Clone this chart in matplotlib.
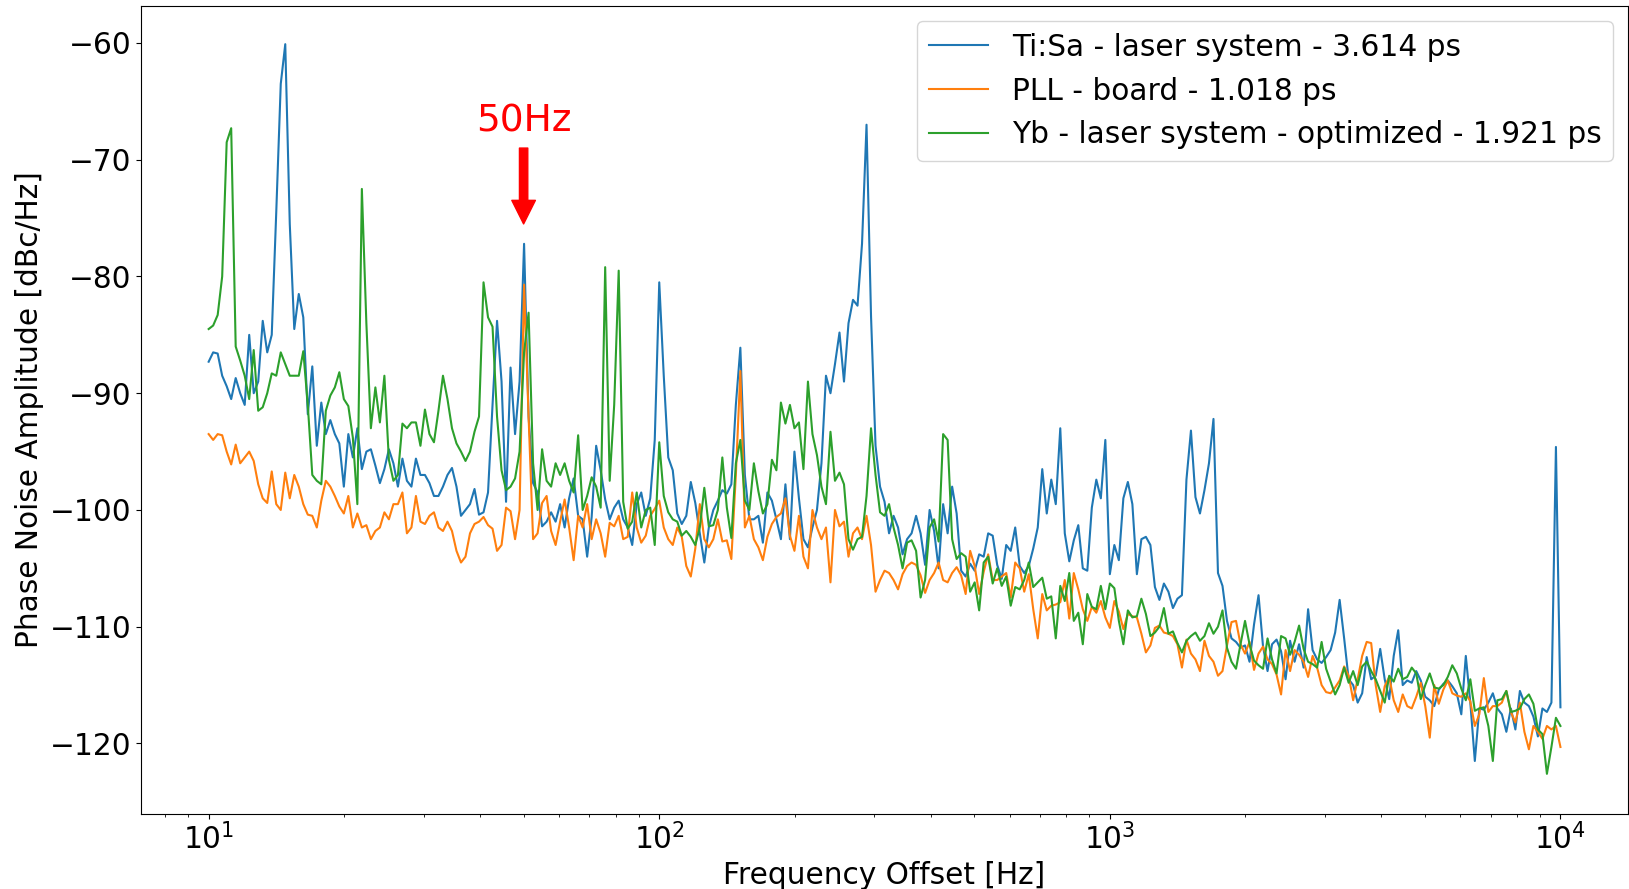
import numpy as np
import matplotlib.pyplot as plt

# offset frequency grid: 100 points per decade, 10 Hz .. 10 kHz
freq = np.logspace(1, 4, 301)

# single sideband phase noise in dBc/Hz on the grid above
tisa = [
    -87.3, -86.5, -86.6, -88.5, -89.4, -90.5, -88.7, -90.0, -91.0, -85.0,
    -90.0, -89.0, -83.8, -86.5, -85.0, -74.5, -63.5, -60.1, -75.5, -84.5,
    -81.5, -83.5, -91.8, -87.7, -94.5, -90.8, -93.5, -92.3, -93.5, -94.3,
    -98.0, -93.5, -95.5, -93.0, -96.5, -95.0, -94.8, -96.2, -97.7, -96.5,
    -94.8, -96.0, -98.0, -95.6, -97.5, -98.0, -95.6, -97.0, -97.0, -97.7,
    -98.8, -98.8, -98.0, -97.0, -96.4, -98.0, -100.5, -100.0, -99.5, -98.2,
    -100.4, -100.2, -98.5, -91.0, -83.8, -89.0, -99.3, -87.8, -93.5, -89.0,
    -77.2, -92.0, -97.7, -98.5, -101.4, -101.0, -100.2, -101.0, -99.5, -101.5,
    -99.0, -97.3, -100.5, -100.8, -104.0, -100.6, -94.5, -96.6, -99.1, -100.8,
    -99.8, -99.2, -100.8, -101.5, -103.0, -99.5, -98.5, -100.5, -99.0, -94.0,
    -80.5, -88.5, -95.5, -96.6, -100.3, -101.2, -100.5, -97.6, -99.4, -102.0,
    -104.5, -101.5, -100.0, -99.2, -98.3, -98.6, -97.8, -91.0, -86.1, -97.0,
    -100.8, -100.8, -100.5, -102.8, -98.5, -99.2, -100.8, -102.5, -97.8, -102.5,
    -95.0, -99.0, -102.5, -103.2, -101.5, -100.0, -96.0, -88.5, -90.0, -87.5,
    -84.8, -89.0, -84.0, -82.0, -82.5, -77.2, -67.0, -83.4, -94.5, -98.0,
    -99.3, -102.0, -100.5, -101.5, -103.8, -102.5, -102.0, -100.5, -102.0, -104.7,
    -100.0, -101.8, -105.0, -99.5, -102.0, -98.0, -100.3, -105.2, -105.7, -104.6,
    -105.2, -103.8, -104.0, -102.0, -102.2, -104.7, -105.9, -103.0, -103.5, -101.5,
    -104.8, -105.4, -104.8, -103.3, -101.5, -96.5, -100.3, -97.4, -99.5, -93.0,
    -102.0, -104.4, -102.6, -101.3, -105.0, -105.2, -99.8, -97.4, -99.0, -94.0,
    -105.5, -103.0, -104.3, -99.0, -97.6, -99.5, -105.5, -102.5, -102.3, -103.0,
    -106.6, -107.7, -106.3, -107.0, -108.4, -107.6, -107.3, -97.4, -93.2, -98.9,
    -100.3, -98.3, -96.0, -92.2, -105.4, -106.5, -109.5, -111.0, -111.3, -111.8,
    -111.6, -113.0, -109.8, -107.3, -111.7, -113.8, -111.5, -111.1, -112.1, -114.5,
    -111.2, -113.0, -111.5, -113.5, -108.5, -112.0, -112.8, -113.1, -112.6, -112.0,
    -110.5, -107.7, -111.0, -114.5, -115.0, -116.5, -115.7, -112.6, -114.5, -114.2,
    -111.9, -114.5, -116.2, -112.5, -110.3, -115.0, -114.6, -114.8, -113.8, -114.6,
    -116.0, -116.3, -116.8, -115.4, -114.9, -114.6, -115.1, -115.7, -117.5, -112.5,
    -116.5, -121.5, -117.0, -117.1, -116.5, -115.7, -117.0, -117.5, -119.0, -117.0,
    -118.8, -115.5, -116.5, -116.8, -117.7, -119.4, -117.0, -117.3, -116.5, -94.6,
    -116.9,
]

pll = [
    -93.5, -94.0, -93.5, -93.6, -95.0, -96.1, -94.4, -96.0, -95.5, -95.0,
    -95.8, -97.8, -99.0, -99.4, -96.7, -99.5, -100.0, -96.8, -99.0, -97.0,
    -98.0, -99.5, -100.4, -100.5, -101.5, -99.2, -97.5, -98.0, -98.8, -99.7,
    -100.3, -98.8, -101.5, -100.3, -101.5, -101.3, -102.5, -101.8, -101.5, -100.2,
    -100.8, -99.5, -99.5, -98.5, -102.0, -101.5, -98.8, -101.0, -101.2, -100.5,
    -100.2, -101.5, -101.8, -101.0, -101.8, -103.5, -104.5, -104.0, -102.0, -101.2,
    -101.0, -100.6, -101.3, -101.6, -103.5, -103.0, -99.8, -100.1, -102.5, -100.0,
    -80.7, -92.0, -102.5, -102.0, -99.4, -98.8, -101.8, -103.0, -101.0, -99.1,
    -101.5, -104.3, -100.5, -101.5, -99.5, -102.5, -100.8, -102.0, -104.0, -101.1,
    -101.4, -100.5, -102.5, -102.3, -98.5, -101.5, -102.8, -102.2, -100.5, -99.9,
    -99.2, -101.5, -102.5, -103.0, -101.5, -102.3, -104.8, -105.7, -103.3, -99.5,
    -102.5, -103.2, -102.5, -100.8, -102.7, -102.6, -104.2, -97.0, -88.1, -101.5,
    -100.5, -102.5, -103.2, -104.3, -102.3, -101.2, -100.6, -100.3, -99.0, -102.2,
    -103.5, -100.5, -104.0, -105.0, -100.0, -101.5, -102.5, -101.5, -106.2, -100.0,
    -101.4, -101.0, -104.0, -102.0, -101.5, -102.5, -100.5, -103.0, -107.0, -106.0,
    -105.2, -105.4, -106.0, -106.8, -105.5, -104.8, -104.5, -104.7, -105.6, -107.1,
    -106.0, -105.4, -104.5, -106.0, -106.2, -105.4, -104.9, -105.6, -107.2, -103.5,
    -104.8, -107.2, -105.3, -103.8, -106.0, -106.0, -105.7, -105.4, -107.5, -104.5,
    -105.0, -107.0, -105.5, -108.5, -111.0, -107.2, -108.6, -108.2, -108.1, -107.9,
    -106.0, -109.3, -105.4, -106.8, -108.5, -109.5, -108.3, -108.8, -107.8, -109.2,
    -110.1, -107.8, -108.7, -110.2, -108.9, -109.1, -109.2, -110.6, -112.2, -111.6,
    -110.1, -109.9, -110.5, -110.6, -110.8, -111.5, -113.5, -111.1, -112.3, -112.8,
    -113.8, -111.2, -112.5, -113.0, -114.2, -113.8, -111.6, -109.6, -109.5, -111.5,
    -112.3, -111.3, -113.7, -112.3, -111.7, -112.8, -113.2, -114.1, -115.8, -112.0,
    -113.8, -112.0, -112.4, -113.0, -114.3, -112.5, -113.5, -115.0, -115.6, -115.7,
    -115.2, -114.6, -113.4, -114.2, -116.3, -114.5, -112.5, -111.3, -111.4, -115.0,
    -117.3, -115.1, -114.3, -116.3, -117.3, -115.8, -116.8, -117.0, -116.0, -114.8,
    -116.8, -119.5, -115.0, -116.6, -115.4, -114.6, -115.7, -115.9, -116.0, -115.7,
    -116.4, -118.5, -117.5, -114.4, -117.3, -116.8, -116.8, -116.5, -115.5, -117.3,
    -118.2, -116.5, -119.0, -120.5, -118.5, -119.0, -119.6, -118.5, -118.8, -118.5,
    -120.3,
]

yb = [
    -84.5, -84.2, -83.3, -80.0, -68.5, -67.3, -86.0, -87.2, -88.5, -90.5,
    -86.3, -91.5, -91.2, -90.0, -88.3, -88.5, -86.5, -87.5, -88.5, -88.5,
    -88.5, -86.4, -91.0, -97.0, -97.5, -97.8, -91.5, -90.2, -89.5, -88.2,
    -90.5, -91.1, -93.8, -99.5, -72.5, -84.0, -93.0, -89.5, -92.5, -88.5,
    -95.7, -97.5, -97.0, -92.6, -93.0, -92.5, -92.5, -94.5, -91.4, -93.5,
    -94.2, -91.5, -88.5, -90.5, -93.0, -94.3, -95.0, -95.8, -95.0, -93.3,
    -92.0, -80.5, -83.5, -84.3, -92.0, -96.6, -98.3, -98.0, -97.3, -95.0,
    -86.5, -83.1, -96.0, -100.0, -94.8, -97.5, -98.0, -96.0, -97.0, -96.0,
    -97.5, -98.5, -93.6, -100.0, -98.8, -97.2, -98.0, -99.8, -79.2, -97.5,
    -91.0, -79.5, -99.3, -101.6, -101.0, -98.5, -101.5, -100.0, -99.8, -103.0,
    -94.2, -98.8, -100.2, -100.8, -101.0, -102.2, -101.8, -102.3, -103.0, -101.5,
    -98.1, -101.4, -101.3, -100.0, -95.5, -99.8, -102.4, -96.0, -94.0, -99.2,
    -100.0, -96.0, -98.4, -100.3, -99.5, -95.7, -96.6, -90.8, -92.6, -91.0,
    -93.0, -92.5, -96.5, -89.0, -93.5, -95.3, -98.0, -99.5, -93.3, -97.5,
    -96.8, -97.8, -102.5, -103.4, -102.5, -102.3, -98.8, -93.0, -97.0, -100.2,
    -100.5, -99.5, -101.5, -103.0, -105.0, -102.8, -102.6, -103.5, -107.5, -106.0,
    -101.5, -100.8, -102.7, -93.5, -94.0, -102.5, -104.2, -103.7, -104.0, -107.0,
    -106.2, -108.6, -104.5, -104.0, -106.3, -105.0, -106.5, -105.7, -108.2, -106.6,
    -106.8, -106.0, -104.5, -106.6, -106.2, -105.8, -107.6, -107.4, -111.0, -106.5,
    -107.8, -105.4, -109.5, -108.8, -111.5, -107.2, -108.3, -108.5, -106.5, -108.5,
    -106.3, -106.7, -109.5, -111.5, -108.6, -109.2, -109.1, -107.6, -108.9, -110.8,
    -110.5, -110.0, -108.4, -110.6, -110.4, -111.4, -112.2, -111.2, -110.8, -110.5,
    -111.2, -110.8, -109.7, -110.6, -110.0, -108.6, -111.8, -113.0, -113.6, -111.5,
    -109.5, -111.5, -112.9, -113.3, -113.6, -111.0, -112.8, -114.0, -110.8, -111.0,
    -112.4, -111.3, -109.9, -111.9, -113.0, -113.2, -113.5, -111.3, -113.6, -114.7,
    -115.8, -115.0, -113.5, -114.8, -113.8, -115.0, -113.4, -113.0, -113.8, -114.5,
    -115.5, -116.5, -114.2, -114.7, -113.6, -114.5, -114.3, -113.5, -114.0, -116.2,
    -115.0, -114.0, -115.2, -115.3, -115.0, -114.3, -113.3, -114.0, -115.3, -116.3,
    -114.5, -117.2, -117.0, -116.9, -118.5, -121.5, -116.3, -116.2, -115.5, -117.3,
    -117.2, -117.0, -116.2, -115.8, -116.6, -118.8, -119.2, -122.6, -120.3, -117.8,
    -118.5,
]

plt.rcParams['font.size'] = 21.3

fig = plt.figure(figsize=(16.29, 8.89), dpi=100)
ax = fig.add_axes([0.0866, 0.0849, 0.9128, 0.9081])

ax.semilogx(freq, tisa, label='Ti:Sa - laser system - 3.614 ps')
ax.semilogx(freq, pll, label='PLL - board - 1.018 ps')
ax.semilogx(freq, yb, label='Yb - laser system - optimized - 1.921 ps')

ax.set_xlim(10 ** 0.85, 10 ** 4.15)
ax.set_ylim(-126.0, -56.85)
ax.set_xlabel('Frequency Offset [Hz]')
ax.set_ylabel('Phase Noise Amplitude [dBc/Hz]')
ax.legend(loc='upper right')

# mark the mains line
ax.annotate('', xy=(50, -75.5), xytext=(50, -69.0),
            arrowprops=dict(facecolor='red', edgecolor='red', width=6,
                            headwidth=17, headlength=17, shrink=0))
ax.text(50, -67.6, '50Hz', color='red', fontsize=27, ha='center', va='baseline')

fig.savefig('out.png')
